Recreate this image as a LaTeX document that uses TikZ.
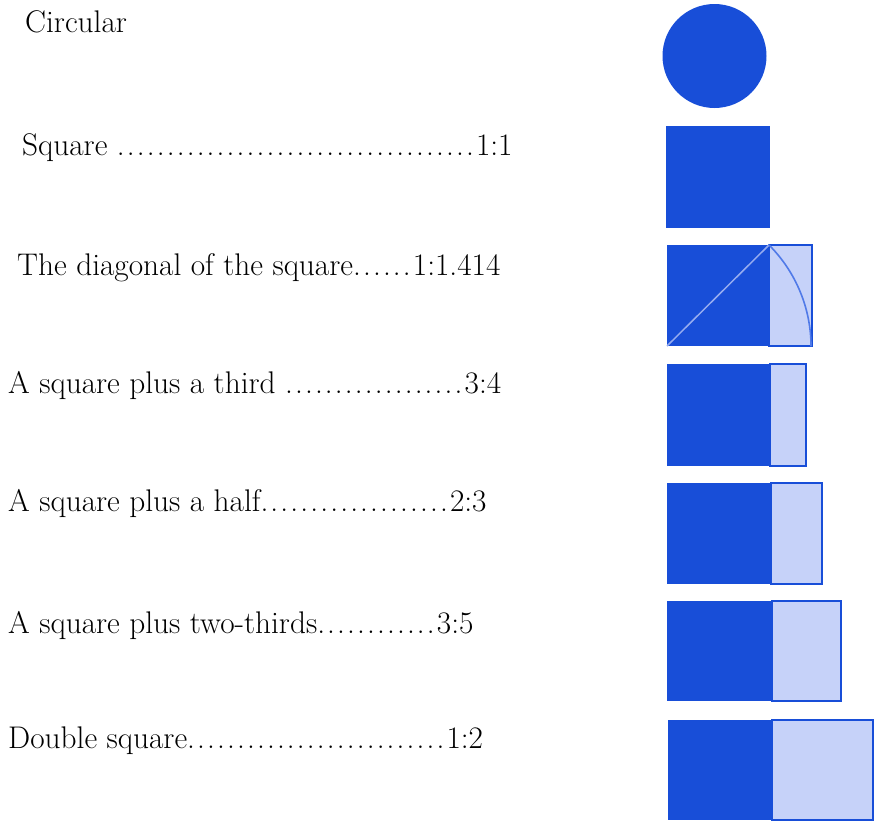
\documentclass[tikz,border=0pt]{standalone}
\usepackage{tikz}
\usetikzlibrary{positioning}
\usepackage{xcolor}
\definecolor{ratioblue}{RGB}{24,78,216}
\definecolor{ratiolight}{RGB}{198,210,249}
\definecolor{diagline}{RGB}{150,172,240}
\definecolor{arcline}{RGB}{80,122,232}
% a run of leader dots
\newcommand{\dotrun}[1]{\foreach \d in {1,...,#1}{.\kern2.15pt}}

\begin{document}
\begin{tikzpicture}[
    x=1pt,y=-1pt,
    ratiotext/.style={anchor=base west,inner sep=0pt,font=\fontsize{31.3}{36}\selectfont},
    sqpart/.style={fill=ratioblue},
    extpart/.style={fill=ratiolight,draw=ratioblue,line width=2pt}
]
\useasboundingbox (0,0) rectangle (879,830);

\node[ratiotext] (circ) at (25,32) {Circular};
\node[ratiotext] (sq) at (22,155) {Square \dotrun{36}1:1};
\node[ratiotext] (diag) at (17,275) {The diagonal of the square\dotrun{6}1:1.414};
\node[ratiotext] (third) at (8,393) {A square plus a third \dotrun{18}3:4};
\node[ratiotext] (half) at (8,511) {A square plus a half\dotrun{19}2:3};
\node[ratiotext] (twothirds) at (8,633) {A square plus two-thirds\dotrun{12}3:5};
\node[ratiotext] (double) at (8,748) {Double square\dotrun{26}1:2};

% circle and square
\fill[ratioblue] (714.5,56) circle (52);
\fill[sqpart] (666,126) rectangle (770,228);

% diagonal of the square
\fill[sqpart] (667,245) rectangle (769,346);
\draw[extpart] (769,245) rectangle (812,346);
\draw[diagline,line width=1.5pt] (667,346) -- (769,245);
\draw[arcline,line width=1.6pt] (769,245) arc[start angle=-45,end angle=0,radius=143.5];

% square plus a part
\fill[sqpart] (667,364) rectangle (770,466);
\draw[extpart] (770,364) rectangle (806,466);
\fill[sqpart] (667,483) rectangle (771,584);
\draw[extpart] (771,483) rectangle (822,584);
\fill[sqpart] (667,601) rectangle (772,701);
\draw[extpart] (772,601) rectangle (841,701);
\fill[sqpart] (668,720) rectangle (772,820);
\draw[extpart] (772,720) rectangle (873,820);
\end{tikzpicture}
\end{document}
